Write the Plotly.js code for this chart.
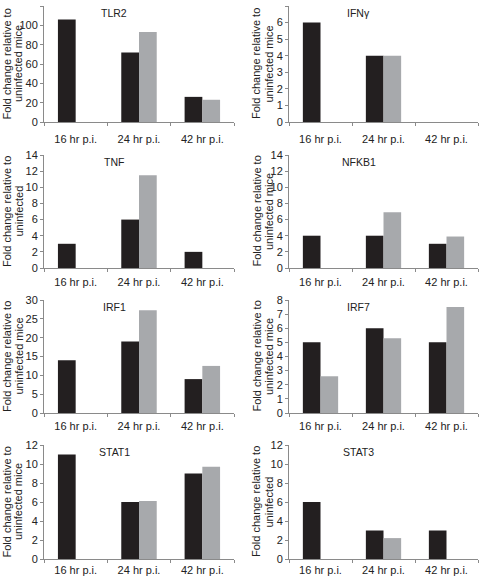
<!DOCTYPE html>
<html>
<head>
<meta charset="utf-8">
<script src="https://cdn.plot.ly/plotly-3.0.1.min.js"></script>
<style>html,body{margin:0;padding:0;background:#fff;}</style>
</head>
<body>
<div id="chart" style="width:480px;height:576px;"></div>
<script>
// ---- data ----
const timepoints = ["16 hr p.i.", "24 hr p.i.", "42 hr p.i."];
const genes = ["TLR2", "IFNγ", "TNF", "NFKB1", "IRF1", "IRF7", "STAT1", "STAT3"];
const yTitleLine1 = "Fold change relative to";
const yTitleLine2 = ["uninfected mice", "uninfected mice", "uninfected", "uninfected mice",
                     "uninfected mice", "uninfected mice", "uninfected mice", "uninfected"];
const yMax = [120, 7, 14, 14, 30, 8, 12, 12];
const yStep = [20, 1, 2, 2, 5, 1, 2, 2];

const tlr2Dark = [106, 72, 26];     const tlr2Grey = [null, 93, 23];
const ifngDark = [6, 4, null];      const ifngGrey = [null, 4, null];
const tnfDark = [3, 6, 2];          const tnfGrey = [null, 11.5, null];
const nfkb1Dark = [4, 4, 3];        const nfkb1Grey = [null, 6.9, 3.9];
const irf1Dark = [14, 19, 9];       const irf1Grey = [null, 27.3, 12.5];
const irf7Dark = [5, 6, 5];         const irf7Grey = [2.6, 5.3, 7.5];
const stat1Dark = [11, 6, 9];       const stat1Grey = [null, 6.1, 9.7];
const stat3Dark = [6, 3, 3];        const stat3Grey = [null, 2.2, null];

const darkSeries = [tlr2Dark, ifngDark, tnfDark, nfkb1Dark, irf1Dark, irf7Dark, stat1Dark, stat3Dark];
const greySeries = [tlr2Grey, ifngGrey, tnfGrey, nfkb1Grey, irf1Grey, irf7Grey, stat1Grey, stat3Grey];

// ---- layout geometry ----
const W = 480, H = 576;
const colX = [[44, 234], [289, 478]];
const rowY = [[6, 122], [155, 268], [300, 413], [445, 559]];
const rowLabelStandoff = [7, 4, 3, 1];
const titleLineX = [[6.5, 18], [256, 268.5]];

const DARK = "#231f20", GREY = "#a7a9ac", AXIS = "#8a8a8a", TXT = "#222";
const FONT = "Liberation Sans, Arial, sans-serif";

const data = [];
const layout = {
  width: W, height: H,
  margin: {l: 0, r: 0, t: 0, b: 0},
  paper_bgcolor: "#fff", plot_bgcolor: "#fff",
  showlegend: false,
  barmode: "group", bargap: 0.44, bargroupgap: 0,
  font: {family: FONT, color: TXT},
  annotations: []
};

genes.forEach((g, i) => {
  const n = i + 1;
  const xs = n === 1 ? "x" : "x" + n;
  const ys = n === 1 ? "y" : "y" + n;
  const col = i % 2, row = Math.floor(i / 2);
  data.push({type: "bar", x: timepoints, y: darkSeries[i], xaxis: xs, yaxis: ys,
             marker: {color: DARK}, name: g + " dark", hoverinfo: "y"});
  data.push({type: "bar", x: timepoints, y: greySeries[i], xaxis: xs, yaxis: ys,
             marker: {color: GREY}, name: g + " grey", hoverinfo: "y"});
  layout["xaxis" + (n === 1 ? "" : n)] = {
    domain: [colX[col][0] / W, colX[col][1] / W],
    anchor: ys, type: "category",
    showline: true, linecolor: AXIS, linewidth: 1,
    ticks: "outside", tickson: "boundaries", ticklen: 3, tickcolor: AXIS,
    ticklabelstandoff: rowLabelStandoff[row],
    tickfont: {size: 11, family: FONT, color: TXT},
    showgrid: false, zeroline: false, fixedrange: true
  };
  layout["yaxis" + (n === 1 ? "" : n)] = {
    domain: [1 - rowY[row][1] / H, 1 - rowY[row][0] / H],
    anchor: xs, range: [0, yMax[i]], dtick: yStep[i], tick0: 0,
    showline: true, linecolor: AXIS, linewidth: 1,
    ticks: "outside", ticklen: 3, tickcolor: AXIS,
    tickfont: {size: 11, family: FONT, color: TXT},
    showgrid: false, zeroline: false, fixedrange: true
  };
  layout.annotations.push({
    text: g, xref: xs + " domain", yref: ys + " domain",
    x: 0.37, y: 0.94, xanchor: "center", yanchor: "middle",
    showarrow: false, font: {size: 10.5, family: FONT, color: TXT}
  });
  const yc = 1 - (rowY[row][0] + rowY[row][1]) / 2 / H;
  [yTitleLine1, yTitleLine2[i]].forEach((t, k) => {
    layout.annotations.push({
      text: t, xref: "paper", yref: "paper",
      x: titleLineX[col][k] / W, y: yc,
      xanchor: "center", yanchor: "middle", textangle: -90,
      showarrow: false, font: {size: 11, family: FONT, color: TXT}
    });
  });
});

Plotly.newPlot("chart", data, layout, {staticPlot: true, displayModeBar: false});
</script>
</body>
</html>
